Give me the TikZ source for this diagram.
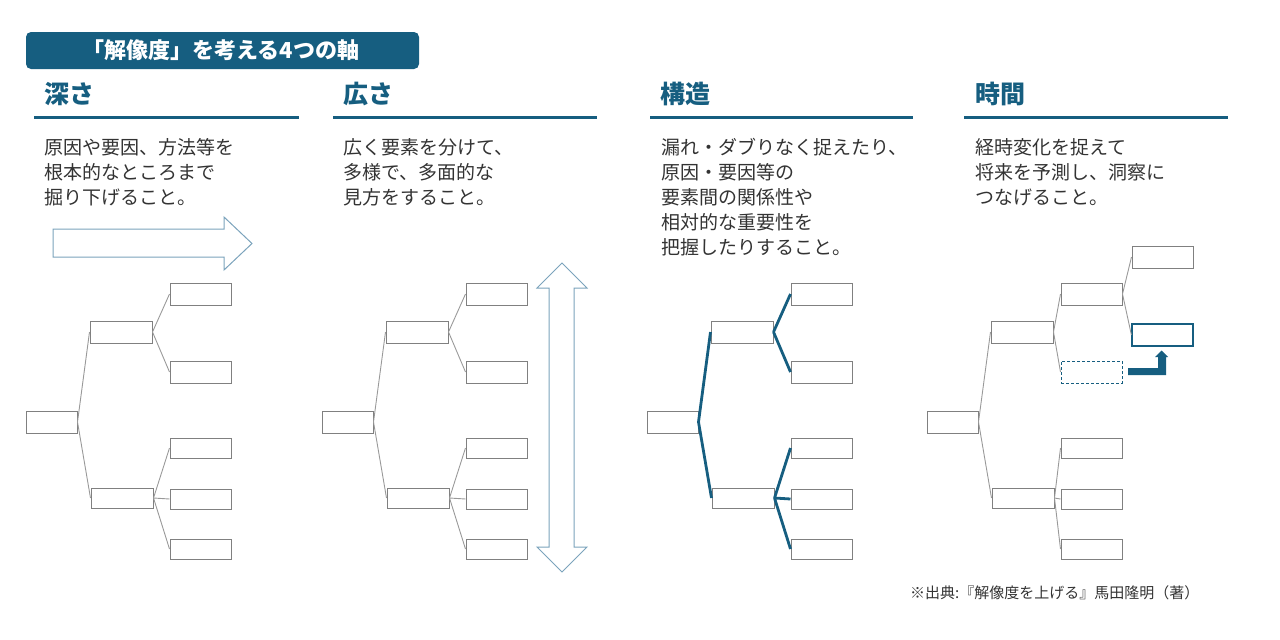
\documentclass[tikz,border=0pt]{standalone}
\usepackage{fontspec}
\setmainfont{Noto Sans CJK JP}
\definecolor{navy}{HTML}{165E80}
\definecolor{txt}{HTML}{333333}
\definecolor{boxgray}{HTML}{808080}
\definecolor{linegray}{HTML}{999999}
\definecolor{arrowblue}{HTML}{7BA3BC}
\newcommand\treebase[3]{%
  \node[box, minimum width=51pt] (#1r) at ({51.5+#2},422) {};
  \node[box, minimum width=62pt] (#1a) at ({121+#2},332) {};
  \node[box, minimum width=62pt, minimum height=20pt] (#1b) at ({122+#2},498) {};
  \node[box, minimum height=20pt] (#1l3) at ({200.5+#3},448) {};
  \node[box, minimum height=20pt] (#1l4) at ({200.5+#3},499) {};
  \node[box, minimum height=20pt] (#1l5) at ({200.5+#3},549) {};
}
\begin{document}
\begin{tikzpicture}[x=1pt,y=-1pt,
  box/.style={draw=boxgray, line width=1pt, fill=white, inner sep=0pt, minimum width=61pt, minimum height=22pt},
  conn/.style={draw=linegray, line width=0.9pt},
  strong/.style={draw=navy, line width=2.8pt},
  head/.style={anchor=base west, font=\fontsize{25}{25}\selectfont\bfseries, text=navy, inner sep=0pt},
  body/.style={anchor=base west, align=left, font=\fontsize{19}{25}\selectfont, text=txt, inner sep=0pt},
  rule/.style={draw=navy, line width=3pt},
  hollow/.style={draw=arrowblue, line width=1pt, fill=white}]
\useasboundingbox (0,0) rectangle (1280,640);

% title
\node[fill=navy, rounded corners=5pt, minimum width=393pt, minimum height=37pt, inner sep=0pt] (title) at (222.5,50.5) {};
\node[text=white, font=\fontsize{22}{22}\selectfont\bfseries, inner sep=0pt] (titletext) at (221,50.5) {「解像度」を考える4つの軸};

% headers and rules
\node[head] (h1) at (44,103.5) {深さ};
\node[head] (h2) at (343,103.5) {広さ};
\node[head] (h3) at (660,103.5) {構造};
\node[head] (h4) at (975,103.5) {時間};
\draw[rule] (34,117.5) -- (299,117.5);
\draw[rule] (333,117.5) -- (597,117.5);
\draw[rule] (650,117.5) -- (913,117.5);
\draw[rule] (964,117.5) -- (1228,117.5);

% body texts (anchored at the baseline of the last line)
\node[body] (b1) at (44,204) {原因や要因、方法等を\\根本的なところまで\\掘り下げること。};
\node[body] (b2) at (343,204) {広く要素を分けて、\\多様で、多面的な\\見方をすること。};
\node[body] (b3) at (661,254) {漏れ・ダブりなく捉えたり、\\原因・要因等の\\要素間の関係性や\\相対的な重要性を\\把握したりすること。};
\node[body] (b4) at (975,204) {経時変化を捉えて\\将来を予測し、洞察に\\つなげること。};

% hollow arrows
\draw[hollow] (53,229) -- (224,229) -- (224,217) -- (252,243.5) -- (224,270) -- (224,257) -- (53,257) -- cycle;
\draw[hollow] (562,263) -- (587,288) -- (574,288) -- (574,547) -- (587,547) -- (562,572) -- (537,547) -- (549,547) -- (549,288) -- (537,288) -- cycle;

% tree 1: depth
\treebase{d}{0}{0}
\node[box] (dl1) at (200.5,294) {};
\node[box] (dl2) at (200.5,372) {};
\draw[conn] (dr.east) -- (da.west);
\draw[conn] (dr.east) -- (db.west);
\draw[conn] (da.east) -- (dl1.west);
\draw[conn] (da.east) -- (dl2.west);
\draw[conn] (db.east) -- (dl3.west);
\draw[conn] (db.east) -- (dl4.west);
\draw[conn] (db.east) -- (dl5.west);

% tree 2: width
\treebase{w}{296}{296}
\node[box] (wl1) at (496.5,294) {};
\node[box] (wl2) at (496.5,372) {};
\draw[conn] (wr.east) -- (wa.west);
\draw[conn] (wr.east) -- (wb.west);
\draw[conn] (wa.east) -- (wl1.west);
\draw[conn] (wa.east) -- (wl2.west);
\draw[conn] (wb.east) -- (wl3.west);
\draw[conn] (wb.east) -- (wl4.west);
\draw[conn] (wb.east) -- (wl5.west);

% tree 3: structure
\treebase{s}{621}{621}
\node[box] (sl1) at (821.5,294) {};
\node[box] (sl2) at (821.5,372) {};
\draw[strong] (sr.east) -- (sa.west);
\draw[strong] (sr.east) -- (sb.west);
\draw[strong] (sa.east) -- (sl1.west);
\draw[strong] (sa.east) -- (sl2.west);
\draw[strong] (sb.east) -- (sl3.west);
\draw[strong] (sb.east) -- (sl4.west);
\draw[strong] (sb.east) -- (sl5.west);

% tree 4: time
\treebase{t}{901}{891}
\node[box] (tc) at (1091.5,294) {};
\node[box, draw=navy, dash pattern=on 3pt off 2pt] (td) at (1091.5,372) {};
\node[box] (te) at (1162.5,257) {};
\node[box, draw=navy, line width=1.2pt] (tf) at (1162.5,335) {};
\draw[conn] (tr.east) -- (ta.west);
\draw[conn] (tr.east) -- (tb.west);
\draw[conn] (ta.east) -- (tc.west);
\draw[conn] (ta.east) -- (td.west);
\draw[conn] (tc.east) -- (te.west);
\draw[conn] (tc.east) -- (tf.west);
\draw[conn] (tb.east) -- (tl3.west);
\draw[conn] (tb.east) -- (tl4.west);
\draw[conn] (tb.east) -- (tl5.west);
\fill[navy] (1128,368) -- (1158,368) -- (1158,357) -- (1155,357) -- (1161.5,350.5) -- (1168,357) -- (1166,357) -- (1166,375) -- (1128,375) -- cycle;

% footnote
\node[anchor=base west, font=\fontsize{15}{15}\selectfont, text=txt, inner sep=0pt] (src) at (910,598.5) {※出典:『解像度を上げる』馬田隆明（著）};
\end{tikzpicture}
\end{document}
